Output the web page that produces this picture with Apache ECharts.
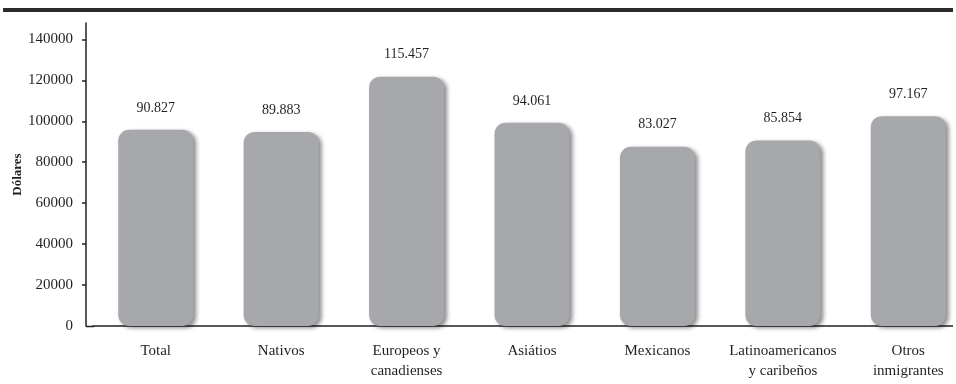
<!DOCTYPE html>
<html>
<head>
<meta charset="utf-8">
<script src="https://cdn.jsdelivr.net/npm/echarts@6/dist/echarts.min.js"></script>
<style>
  html, body { margin: 0; padding: 0; background: #fff; }
  #box { width: 956px; height: 384px; }
</style>
</head>
<body>
<div id="box"></div>
<script>
// data
const categories = ['Total', 'Nativos', 'Europeos y\ncanadienses', 'Asiátios', 'Mexicanos', 'Latinoamericanos\ny caribeños', 'Otros\ninmigrantes'];
const ingresos = [90827, 89883, 115457, 94061, 83027, 85854, 97167];
const yTicks = [0, 20000, 40000, 60000, 80000, 100000, 120000, 140000];

const serif = '"Liberation Serif", "DejaVu Serif", serif';
const ink = '#231f20';

let myChart = echarts.init(document.getElementById('box'), null, { renderer: 'canvas' });

let option = {
    animation: false,
    backgroundColor: '#fff',
    grid: { left: 93, width: 878, top: 23, bottom: 58, outerBoundsMode: 'none', containLabel: false },
    graphic: [
        // thick rule at the top
        { type: 'rect', shape: { x: 3, y: 8, width: 950, height: 4 }, style: { fill: '#2b2b2b' } },
        // closes the corner between the two axis lines
        { type: 'line', shape: { x1: 86, y1: 326.5, x2: 94, y2: 326.5 }, style: { stroke: ink, lineWidth: 1.5 } },
        // hides the part of the x axis past the right edge of the source
        { type: 'rect', shape: { x: 953, y: 320, width: 10, height: 12 }, style: { fill: '#fff' }, z: 100 }
    ],
    xAxis: {
        type: 'category',
        data: categories,
        axisLine: { lineStyle: { color: ink, width: 1.5 } },
        axisTick: { show: false },
        axisLabel: {
            interval: 0,
            margin: 15,
            fontFamily: serif,
            fontSize: 15,
            lineHeight: 20,
            color: ink
        }
    },
    yAxis: [
        {
            type: 'value',
            min: 0,
            max: 148000,
            offset: 7,
            name: 'Dólares',
            nameLocation: 'middle',
            nameGap: 62,
            nameMoveOverlap: false,
            nameTextStyle: { fontFamily: serif, fontSize: 13, fontWeight: 'bold', color: ink },
            splitLine: { show: false },
            axisLine: { show: true, lineStyle: { color: ink, width: 1.5 } },
            axisTick: { show: true, length: 4, customValues: yTicks.slice(1), lineStyle: { color: ink, width: 1.5 } },
            axisLabel: {
                customValues: yTicks,
                margin: 13,
                fontFamily: serif,
                fontSize: 15,
                color: ink,
                formatter: function (v) { return String(v); }
            }
        },
        {
            // bars in the source sit a little taller than the printed scale
            type: 'value',
            min: 0,
            max: 140300,
            show: false,
            splitLine: { show: false }
        }
    ],
    series: [
        {
            type: 'bar',
            yAxisIndex: 1,
            data: ingresos,
            barWidth: 75,
            itemStyle: {
                color: '#a7a8ab',
                borderRadius: 11,
                shadowColor: 'rgba(0, 0, 0, 0.45)',
                shadowBlur: 4,
                shadowOffsetX: 3,
                shadowOffsetY: 2
            },
            label: {
                show: true,
                position: 'top',
                distance: 15,
                fontFamily: serif,
                fontSize: 14,
                color: ink,
                formatter: function (p) {
                    return (p.value / 1000).toFixed(3);
                }
            }
        }
    ]
};
myChart.setOption(option);
</script>
</body>
</html>
